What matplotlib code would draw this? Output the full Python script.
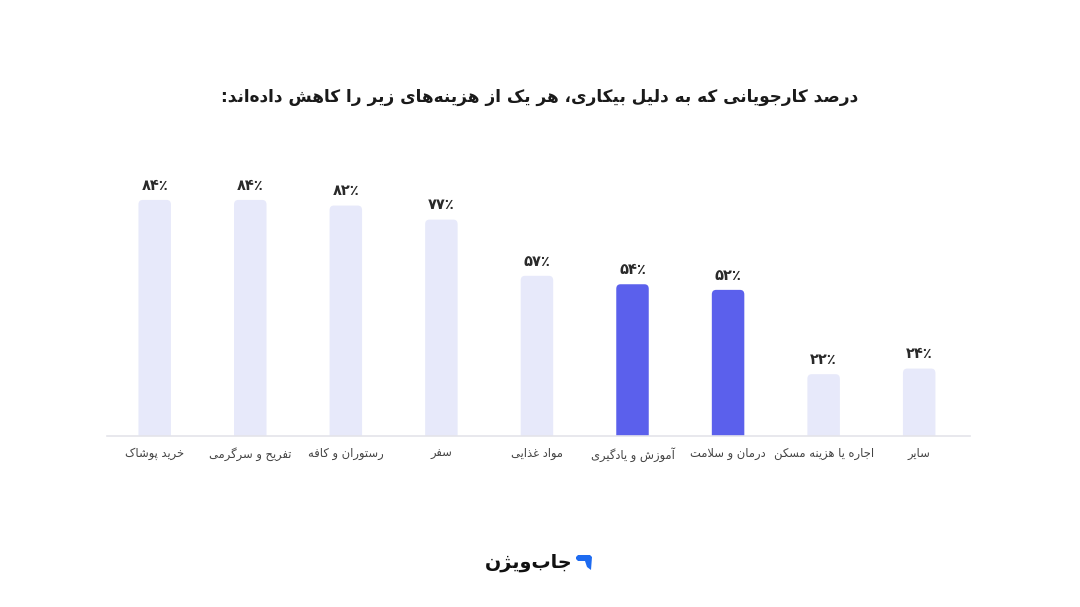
import matplotlib
matplotlib.use("Agg")
import matplotlib.pyplot as plt
from matplotlib.patches import FancyBboxPatch, Polygon

# ---------------- data ----------------
categories = ["خرید پوشاک", "تفریح و سرگرمی", "رستوران و کافه", "سفر", "مواد غذایی",
              "آموزش و یادگیری", "درمان و سلامت", "اجاره یا هزینه مسکن", "سایر"]
values = [84, 84, 82, 77, 57, 54, 52, 22, 24]
value_labels = ["۸۴٪", "۸۴٪", "۸۲٪", "۷۷٪", "۵۷٪", "۵۴٪", "۵۲٪", "۲۲٪", "۲۴٪"]
highlight = [False, False, False, False, False, True, True, False, False]
title = "درصد کارجویانی که به دلیل بیکاری، هر یک از هزینه‌های زیر را کاهش داده‌اند:"
brand = "جاب‌ویژن"

# ---------------- minimal Persian shaping ----------------
DUAL = {
    'ب': (0xFE8F, 0xFE90, 0xFE91, 0xFE92), 'پ': (0xFB56, 0xFB57, 0xFB58, 0xFB59),
    'ت': (0xFE95, 0xFE96, 0xFE97, 0xFE98), 'ث': (0xFE99, 0xFE9A, 0xFE9B, 0xFE9C),
    'ج': (0xFE9D, 0xFE9E, 0xFE9F, 0xFEA0), 'چ': (0xFB7A, 0xFB7B, 0xFB7C, 0xFB7D),
    'ح': (0xFEA1, 0xFEA2, 0xFEA3, 0xFEA4), 'خ': (0xFEA5, 0xFEA6, 0xFEA7, 0xFEA8),
    'س': (0xFEB1, 0xFEB2, 0xFEB3, 0xFEB4), 'ش': (0xFEB5, 0xFEB6, 0xFEB7, 0xFEB8),
    'ص': (0xFEB9, 0xFEBA, 0xFEBB, 0xFEBC), 'ض': (0xFEBD, 0xFEBE, 0xFEBF, 0xFEC0),
    'ط': (0xFEC1, 0xFEC2, 0xFEC3, 0xFEC4), 'ظ': (0xFEC5, 0xFEC6, 0xFEC7, 0xFEC8),
    'ع': (0xFEC9, 0xFECA, 0xFECB, 0xFECC), 'غ': (0xFECD, 0xFECE, 0xFECF, 0xFED0),
    'ف': (0xFED1, 0xFED2, 0xFED3, 0xFED4), 'ق': (0xFED5, 0xFED6, 0xFED7, 0xFED8),
    'ک': (0xFB8E, 0xFB8F, 0xFB90, 0xFB91), 'گ': (0xFB92, 0xFB93, 0xFB94, 0xFB95),
    'ل': (0xFEDD, 0xFEDE, 0xFEDF, 0xFEE0), 'م': (0xFEE1, 0xFEE2, 0xFEE3, 0xFEE4),
    'ن': (0xFEE5, 0xFEE6, 0xFEE7, 0xFEE8), 'ه': (0xFEE9, 0xFEEA, 0xFEEB, 0xFEEC),
    'ی': (0xFBFC, 0xFBFD, 0xFBFE, 0xFBFF), 'ئ': (0xFE89, 0xFE8A, 0xFE8B, 0xFE8C),
}
RIGHT = {
    'ا': (0xFE8D, 0xFE8E), 'آ': (0xFE81, 0xFE82), 'د': (0xFEA9, 0xFEAA),
    'ذ': (0xFEAB, 0xFEAC), 'ر': (0xFEAD, 0xFEAE), 'ز': (0xFEAF, 0xFEB0),
    'ژ': (0xFB8A, 0xFB8B), 'و': (0xFEED, 0xFEEE),
}
LAM_ALEF = {'ا': (0xFEFB, 0xFEFC), 'آ': (0xFEF5, 0xFEF6)}


def shape(text):
    chars = list(text)
    out = []
    n = len(chars)
    i = 0

    def joins(c):
        return c in DUAL or c in RIGHT

    while i < n:
        c = chars[i]
        prev = chars[i - 1] if i > 0 else None
        con_prev = prev in DUAL and joins(c)
        if c == 'ل' and i + 1 < n and chars[i + 1] in LAM_ALEF:
            iso, fin = LAM_ALEF[chars[i + 1]]
            out.append(chr(fin if (prev in DUAL) else iso))
            i += 2
            continue
        if c in DUAL:
            nxt = chars[i + 1] if i + 1 < n else None
            con_next = nxt is not None and joins(nxt)
            iso, fin, ini, med = DUAL[c]
            if con_prev and con_next:
                out.append(chr(med))
            elif con_prev:
                out.append(chr(fin))
            elif con_next:
                out.append(chr(ini))
            else:
                out.append(chr(iso))
        elif c in RIGHT:
            iso, fin = RIGHT[c]
            out.append(chr(fin if con_prev else iso))
        elif c == '\u200c':
            pass
        else:
            out.append(c)
        i += 1
    return ''.join(reversed(out))


# ---------------- figure ----------------
plt.rcParams['font.family'] = ['DejaVu Sans']
W, H = 1080, 607
fig = plt.figure(figsize=(10.8, 6.07), dpi=100)
fig.patch.set_facecolor('white')
ax = fig.add_axes([0.099, 0.2817, 0.799, 0.463])

x = list(range(len(categories)))
colors = ['#5B60EC' if h else '#E7E9FA' for h in highlight]
bars = ax.bar(x, values, width=0.34, color=colors, zorder=2)

# replace with slightly rounded-top bars (bottom corners hidden below the axis)
for b, col in zip(bars, colors):
    b.set_visible(False)
    fb = FancyBboxPatch((b.get_x(), -4), b.get_width(), b.get_height() + 4,
                        boxstyle="round,pad=0,rounding_size=0.045",
                        mutation_aspect=36, facecolor=col, edgecolor='none', zorder=2)
    ax.add_patch(fb)

for xi, v, lab in zip(x, values, value_labels):
    ax.text(xi, v + 2.6, lab, ha='center', va='bottom', fontsize=10.5,
            fontweight='bold', color='#2a2a2a')

ax.set_xlim(-0.5, 8.53)
ax.set_ylim(0, 100)
ax.set_xticks(x)
ax.set_xticklabels([shape(c) for c in categories], fontsize=8.3, color='#444444')
ax.tick_params(axis='x', length=0, pad=8)
ax.set_yticks([])
for s in ['top', 'right', 'left']:
    ax.spines[s].set_visible(False)
ax.spines['bottom'].set_color('#E4E4EA')
ax.spines['bottom'].set_linewidth(1.2)
ax.spines['bottom'].set_zorder(3)

fig.text(0.4995, 0.840, shape(title), ha='center', va='center', fontsize=12.2,
         fontweight='bold', color='#1a1a1a')

# brand
fig.text(572 / W, 1 - 562 / H, shape(brand), ha='right', va='center', fontsize=13.8,
         fontweight='bold', color='#111111')
pts = [(576, 557), (578, 555), (590, 555), (592, 557), (591, 570), (587, 567),
       (585, 561), (578, 561), (576, 559)]
icon = Polygon([[px / W, 1 - py / H] for px, py in pts], closed=True,
               transform=fig.transFigure, facecolor='#1E6BF0', edgecolor='none')
fig.patches.append(icon)

fig.savefig('out.png', dpi=100, facecolor='white')
